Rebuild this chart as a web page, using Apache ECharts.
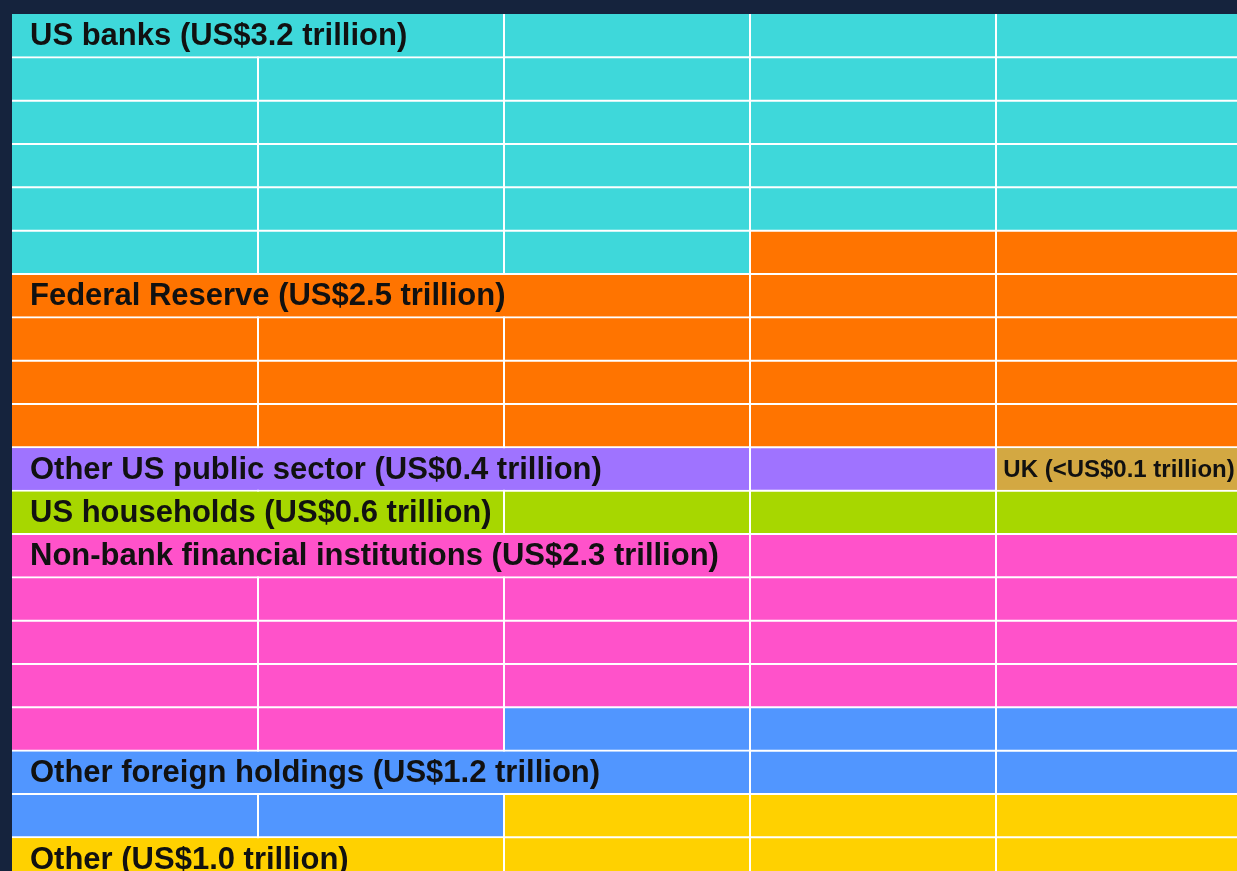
<!DOCTYPE html>
<html>
<head>
<meta charset="utf-8">
<title>Holders of US Treasuries</title>
<script src="https://cdn.jsdelivr.net/npm/echarts@6/dist/echarts.min.js"></script>
<style>
    html, body { margin: 0; padding: 0; background: #15233d; }
    #chart { width: 1237px; height: 871px; }
</style>
</head>
<body>
<div id="chart"></div>
<script>
// holders, the amount shown in each label, and how many cells of the grid each one fills
var holders = ["US banks", "Federal Reserve", "Other US public sector", "UK", "US households",
    "Non-bank financial institutions", "Other foreign holdings", "Other"];
var holdingsText = ["US$3.2 trillion", "US$2.5 trillion", "US$0.4 trillion", "<US$0.1 trillion",
    "US$0.6 trillion", "US$2.3 trillion", "US$1.2 trillion", "US$1.0 trillion"];
var cellCounts = [28, 22, 4, 1, 5, 22, 10, 8];
var columnCount = 5;
var rowCount = 20;

var palette = ["#3ed8da", "#ff7400", "#9f73ff", "#d3a842", "#a7d700", "#ff52ca", "#5196ff", "#ffd100"];
var fontFamily = "'Liberation Sans', Arial, Helvetica, sans-serif";
var baseFontSize = 31;

// fill the grid row by row; the label sits on the first cell that starts a row (or the first cell)
var cells = [];
var pos = 0;
holders.forEach(function (name, k) {
    var labelAt = -1;
    for (var i = 0; i < cellCounts[k]; i++) {
        if (labelAt < 0 && (pos + i) % columnCount == 0) {
            labelAt = pos + i;
        }
    }
    if (labelAt < 0) {
        labelAt = pos;
    }
    var end = pos + cellCounts[k];
    for (var p = pos; p < end; p++) {
        var col = p % columnCount;
        var free = 0;
        if (p == labelAt) {
            free = Math.min(columnCount - col, end - p);
        }
        cells.push([col, Math.floor(p / columnCount), k, p == labelAt ? 1 : 0, free]);
    }
    pos = end;
});

var measureCtx = document.createElement("canvas").getContext("2d");
function textWidth(text, size) {
    measureCtx.font = "bold " + size + "px " + fontFamily;
    return measureCtx.measureText(text).width;
}

function renderCell(params, api) {
    var col = api.value(0);
    var row = api.value(1);
    var k = api.value(2);
    var isLabel = api.value(3);
    var free = api.value(4);
    var topLeft = api.coord([col, row]);
    var size = api.size([1, 1]);
    var cw = size[0], ch = size[1];
    var gap = 1;

    var x0 = topLeft[0] + (col > 0 ? gap : 0);
    var y0 = topLeft[1] + (row > 0 ? gap : 0);
    var x1 = topLeft[0] + cw - gap;
    var y1 = topLeft[1] + ch - gap;

    var children = [{
        type: "rect",
        shape: {x: x0, y: y0, width: x1 - x0, height: y1 - y0},
        style: {fill: palette[k]}
    }];

    if (isLabel) {
        var text = holders[k] + " (" + holdingsText[k] + ")";
        var fs = baseFontSize;
        var w = textWidth(text, fs);
        var pad = 18;
        if (pad + w + 6 > free * cw) {
            fs = Math.floor(baseFontSize * (free * cw - 12) / w);
            w = textWidth(text, fs);
            pad = Math.max(4, (free * cw - w) / 2);
        }
        var span = Math.min(free, Math.max(1, Math.ceil((pad + w + 6) / cw)));
        var lx1 = topLeft[0] + span * cw - gap;
        children.push({
            type: "rect",
            shape: {x: x0, y: y0, width: lx1 - x0, height: y1 - y0},
            style: {fill: palette[k]},
            z2: 50
        });
        children.push({
            type: "text",
            x: topLeft[0] + pad,
            y: topLeft[1] + ch / 2 + 1,
            style: {
                text: text,
                fill: "#111111",
                font: "bold " + fs + "px " + fontFamily,
                align: "left",
                verticalAlign: "middle"
            },
            z2: 100
        });
    }

    return {type: "group", children: children};
}

var chart = echarts.init(document.getElementById("chart"));
var option = {
    backgroundColor: "#15233d",
    animation: false,
    grid: {
        left: 12,
        top: 14,
        width: 1230,
        height: 866.7,
        outerBoundsMode: "none",
        show: true,
        backgroundColor: "#ffffff",
        borderWidth: 0
    },
    xAxis: {
        type: "value",
        min: 0,
        max: columnCount,
        show: false
    },
    yAxis: {
        type: "value",
        min: 0,
        max: rowCount,
        inverse: true,
        show: false
    },
    series: [{
        type: "custom",
        renderItem: renderCell,
        data: cells,
        encode: {x: 0, y: 1},
        silent: true
    }]
};
chart.setOption(option);
</script>
</body>
</html>
